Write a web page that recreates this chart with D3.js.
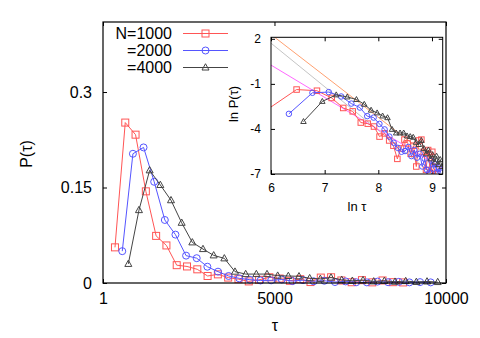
<!DOCTYPE html>
<html><head><meta charset="utf-8">
<script src="https://cdn.jsdelivr.net/npm/d3@7"></script>
<style>body{margin:0;background:#fff}svg{display:block}text{font-family:"Liberation Sans",Arial,sans-serif}</style>
</head><body>
<svg id="c" width="480" height="338"></svg>
<script>
// ---- data ----
const seriesNames = ["N=1000", "=2000", "=4000"];
const tau1000 = [350,650,950,1250,1550,1850,2150,2450,2750,3050,3350,3650,3950,4250,4550,4850,5150,5450,5750,6050,6350,6650,6950,7250,7550,7850,8150,8450,8750];
const p1000 = [0.056,0.252,0.233,0.144,0.074,0.059,0.028,0.026,0.0215,0.011,0.0136,0.0085,0.006,0.0025,0.005,0.009,0.007,0.0035,0.006,0.0015,0.0085,0.009,0.004,0.0012,0.0045,0.001,0.004,0.0013,0.0009];
const tau2000 = [563,873,1183,1493,1803,2113,2423,2733,3043,3353,3663,3973,4283,4593,4903,5213,5523,5833,6143,6453,6763,7073,7383,7693,8003,8313,8623,8933,9243,9553];
const p2000 = [0.050,0.203,0.213,0.159,0.099,0.076,0.043,0.039,0.0256,0.0178,0.011,0.0073,0.0052,0.004,0.0042,0.0055,0.003,0.0045,0.0027,0.0035,0.0015,0.0025,0.0012,0.001,0.0022,0.0013,0.0018,0.001,0.0014,0.001];
const tau4000 = [739,1050,1361,1672,1983,2294,2605,2916,3227,3538,3849,4160,4471,4782,5093,5404,5715,6026,6337,6648,6959,7270,7581,7892,8203,8514,8825,9136,9447,9758];
const p4000 = [0.030,0.1145,0.177,0.154,0.130,0.0946,0.0638,0.0533,0.0434,0.0387,0.0178,0.014,0.014,0.014,0.0115,0.011,0.0105,0.0075,0.0065,0.0085,0.005,0.0035,0.0045,0.0025,0.0033,0.002,0.003,0.0017,0.0024,0.0015];
const xTicks = [1, 5000, 10000];
const yTicks = [0, 0.15, 0.3];
const yTickLabels = ["0", "0.15", "0.3"];
const insetXTicks = [6, 7, 8, 9];
const insetYTicks = [2, -1, -4, -7];
// fitted power-law lines in the inset: [intercept at ln tau = 6, slope]
const fitNames = ["orange", "gray", "magenta"];
const fitIntercepts = [2.29, 1.71, 0.25];
const fitSlopes = [-2.76, -2.9, -2.15];

// ---- styles ----
const colors = ["#ff5555", "#5555ff", "#444444"];
const shapes = ["square", "circle", "triangle"];
const fitColors = ["#ffa070", "#c4c4c4", "#ff66ff"];

const svg = d3.select("#c");
const series = [
  {name: seriesNames[0], tau: tau1000, p: p1000},
  {name: seriesNames[1], tau: tau2000, p: p2000},
  {name: seriesNames[2], tau: tau4000, p: p4000}
].map((s, i) => ({...s, color: colors[i], shape: shapes[i], pts: s.tau.map((t, j) => [t, s.p[j]])}));

function marker(g, shape, cx, cy, size, color) {
  if (shape === "square") {
    g.append("rect").attr("x", cx - size/2).attr("y", cy - size/2).attr("width", size).attr("height", size)
      .attr("fill", "none").attr("stroke", color).attr("stroke-width", 1);
  } else if (shape === "circle") {
    g.append("circle").attr("cx", cx).attr("cy", cy).attr("r", size/2)
      .attr("fill", "none").attr("stroke", color).attr("stroke-width", 1);
  } else {
    const h = size * 0.9;
    g.append("path").attr("d", `M${cx},${cy - h*0.6}L${cx + size/2},${cy + h*0.4}L${cx - size/2},${cy + h*0.4}Z`)
      .attr("fill", "none").attr("stroke", color).attr("stroke-width", 1);
  }
}

// ---- main plot ----
const L = 103, R = 446, T = 22, B = 283;
const x = d3.scaleLinear().domain([1, 10000]).range([L, R]);
const y = d3.scaleLinear().domain([0, 0.41]).range([B, T]);

const fs = "16px";
const gx = svg.append("g").attr("transform", `translate(0,${B})`)
  .call(d3.axisBottom(x).tickValues(xTicks).tickFormat(d => String(d)).tickSize(-4).tickSizeOuter(0).tickPadding(10));
const gxt = svg.append("g").attr("transform", `translate(0,${T})`)
  .call(d3.axisTop(x).tickValues(xTicks).tickFormat("").tickSize(-4).tickSizeOuter(0));
const gy = svg.append("g").attr("transform", `translate(${L},0)`)
  .call(d3.axisLeft(y).tickValues(yTicks).tickFormat((d, i) => yTickLabels[i]).tickSize(-4).tickSizeOuter(0).tickPadding(11));
const gyr = svg.append("g").attr("transform", `translate(${R},0)`)
  .call(d3.axisRight(y).tickValues(yTicks).tickFormat("").tickSize(-4).tickSizeOuter(0));
[gx, gxt, gy, gyr].forEach(g => {
  g.select(".domain").remove();
  g.selectAll("text").style("font-size", fs).attr("fill", "#000").style("font-family", '"Liberation Sans",Arial,sans-serif');
  g.selectAll("line").attr("stroke", "#000");
});

const line = d3.line().x(d => x(d[0])).y(d => y(d[1]));
series.forEach(s => {
  svg.append("path").attr("d", line(s.pts)).attr("fill", "none").attr("stroke", s.color).attr("stroke-width", 1);
  const g = svg.append("g");
  s.pts.forEach(d => marker(g, s.shape, x(d[0]), y(d[1]), 7, s.color));
});

svg.append("rect").attr("x", L).attr("y", T).attr("width", R - L).attr("height", B - T)
  .attr("fill", "none").attr("stroke", "#000").attr("stroke-width", 1.2);

svg.append("text").attr("x", 275).attr("y", 331).attr("text-anchor", "middle").style("font-size", fs).text("τ");
svg.append("text").attr("transform", "translate(32,154) rotate(-90)").attr("text-anchor", "middle").style("font-size", fs).text("P(τ)");

// legend
series.forEach((s, i) => {
  const ly = 33.5 + i * 17;
  svg.append("text").attr("x", 172).attr("y", ly + 5.5).attr("text-anchor", "end").style("font-size", fs).text(s.name);
  svg.append("line").attr("x1", 183).attr("x2", 228).attr("y1", ly).attr("y2", ly).attr("stroke", s.color).attr("stroke-width", 1);
  marker(svg, s.shape, 205.5, ly, 7, s.color);
});

// ---- inset ----
const iL = 271, iR = 442.7, iT = 37.3, iB = 174;
const ix = d3.scaleLinear().domain([6, 9.2]).range([iL, iR]);
const iy = d3.scaleLinear().domain([-7, 2.1]).range([iB, iT]);
svg.append("rect").attr("x", iL).attr("y", iT).attr("width", iR - iL).attr("height", iB - iT).attr("fill", "#fff");
svg.append("clipPath").attr("id", "ic").append("rect").attr("x", iL).attr("y", iT).attr("width", iR - iL).attr("height", iB - iT);

const ifs = "12px";
const igx = svg.append("g").attr("transform", `translate(0,${iB})`)
  .call(d3.axisBottom(ix).tickValues(insetXTicks).tickFormat(d => String(d)).tickSize(-4).tickSizeOuter(0).tickPadding(9));
const igxt = svg.append("g").attr("transform", `translate(0,${iT})`)
  .call(d3.axisTop(ix).tickValues(insetXTicks).tickFormat("").tickSize(-4).tickSizeOuter(0));
const igy = svg.append("g").attr("transform", `translate(${iL},0)`)
  .call(d3.axisLeft(iy).tickValues(insetYTicks).tickFormat(d => String(d)).tickSize(-4).tickSizeOuter(0).tickPadding(10));
const igyr = svg.append("g").attr("transform", `translate(${iR},0)`)
  .call(d3.axisRight(iy).tickValues(insetYTicks).tickFormat("").tickSize(-4).tickSizeOuter(0));
[igx, igxt, igy, igyr].forEach(g => {
  g.select(".domain").remove();
  g.selectAll("text").style("font-size", ifs).attr("fill", "#000").style("font-family", '"Liberation Sans",Arial,sans-serif');
  g.selectAll("line").attr("stroke", "#000");
});

const clip = svg.append("g").attr("clip-path", "url(#ic)");
// fit lines
fitNames.forEach((n, i) => {
  const f = lt => fitIntercepts[i] + fitSlopes[i] * (lt - 6);
  clip.append("line").attr("x1", ix(5.9)).attr("y1", iy(f(5.9))).attr("x2", ix(9.3)).attr("y2", iy(f(9.3)))
    .attr("stroke", fitColors[i]).attr("stroke-width", 1);
});
const iline = d3.line().x(d => ix(Math.log(d[0]))).y(d => iy(Math.log(d[1])));
series.forEach(s => {
  clip.append("path").attr("d", iline(s.pts)).attr("fill", "none").attr("stroke", s.color).attr("stroke-width", 1);
  const g = clip.append("g");
  s.pts.forEach(d => marker(g, s.shape, ix(Math.log(d[0])), iy(Math.log(d[1])), 5.5, s.color));
});
svg.append("rect").attr("x", iL).attr("y", iT).attr("width", iR - iL).attr("height", iB - iT)
  .attr("fill", "none").attr("stroke", "#000").attr("stroke-width", 1);

svg.append("text").attr("x", 357).attr("y", 211).attr("text-anchor", "middle").style("font-size", "13px").text("ln τ");
svg.append("text").attr("transform", "translate(238,104) rotate(-90)").attr("text-anchor", "middle").style("font-size", "13px").text("ln P(τ)");
</script>
</body></html>
